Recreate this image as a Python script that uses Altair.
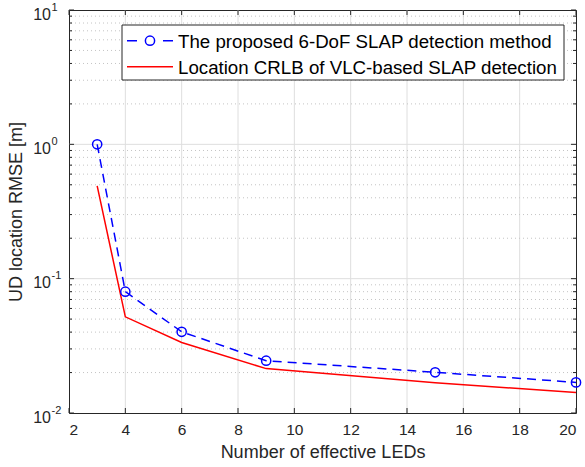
import altair as alt
import pandas as pd

# ---- data ----
leds = [3, 4, 6, 9, 15, 20]
proposed = [1.0, 0.080, 0.0402, 0.0245, 0.0201, 0.0169]
crlb = [0.49, 0.052, 0.0335, 0.0214, 0.0168, 0.0142]

x_ticks = [2, 4, 6, 8, 10, 12, 14, 16, 18, 20]
y_decades = [0.01, 0.1, 1, 10]
y_exponents = ["-2", "-1", "0", "1"]
y_minor = [m * d for d in [0.01, 0.1, 1] for m in range(2, 10)]

label_proposed = "The proposed 6-DoF SLAP detection method"
label_crlb = "Location CRLB of VLC-based SLAP detection"

# ---- layout / style ----
W, H = 507, 403
FONT = "Liberation Sans"
AX = "#262626"
BLUE = "#0000ff"
RED = "#ff0000"

xs = alt.Scale(domain=[2, 20], nice=False, zero=False)
ys = alt.Scale(type="log", domain=[0.01, 10], nice=False)

df = pd.DataFrame({"leds": leds, "proposed": proposed, "crlb": crlb})
xt = pd.DataFrame({"x": x_ticks})
xt_in = pd.DataFrame({"x": x_ticks[1:-1]})
yd = pd.DataFrame({"y": y_decades, "e": y_exponents})
yd_in = pd.DataFrame({"y": y_decades[1:-1]})
ym = pd.DataFrame({"y": y_minor})
one = pd.DataFrame({"a": [0]})

x_axis = alt.Axis(values=x_ticks, ticks=False, grid=False, domain=False,
                  labelFontSize=15.5, labelPadding=9, labelColor=AX, labelFont=FONT,
                  title="Number of effective LEDs", titleFontSize=18,
                  titleFont=FONT, titleColor=AX, titleFontWeight="normal",
                  titlePadding=6)
y_axis = alt.Axis(labels=False, ticks=False, grid=False, domain=False,
                  title="UD location RMSE [m]", titleFontSize=18, titleFont=FONT,
                  titleColor=AX, titleFontWeight="normal", titlePadding=44)


def X(f):
    return alt.X(f, scale=xs, axis=x_axis)


def Y(f):
    return alt.Y(f, scale=ys, axis=y_axis)


xgrid = alt.Chart(xt_in).mark_rule(color="#dedede", strokeWidth=1).encode(x=X("x:Q"))
ygrid = alt.Chart(yd_in).mark_rule(color="#dedede", strokeWidth=1).encode(y=Y("y:Q"))
yminor = alt.Chart(ym).mark_rule(color="#c4c4c4", strokeWidth=1,
                                 strokeDash=[1, 3]).encode(y=Y("y:Q"))

red = alt.Chart(df).mark_line(color=RED, strokeWidth=1.5, clip=False).encode(
    x=X("leds:Q"), y=Y("crlb:Q"))
blue = alt.Chart(df).mark_line(color=BLUE, strokeWidth=1.5, strokeDash=[9, 6],
                               clip=False).encode(x=X("leds:Q"), y=Y("proposed:Q"))
blue_pts = alt.Chart(df).mark_point(color=BLUE, filled=False, size=85,
                                    strokeWidth=1.5, opacity=1).encode(
    x=X("leds:Q"), y=Y("proposed:Q"))

# inward ticks (MATLAB box style)
tick_kw = dict(color=AX, strokeWidth=1)
xb = alt.Chart(xt).mark_rule(**tick_kw).encode(
    x=X("x:Q"), y=alt.value(H), y2=alt.value(H - 5))
xtop = alt.Chart(xt).mark_rule(**tick_kw).encode(
    x=X("x:Q"), y=alt.value(0), y2=alt.value(5))
yl = alt.Chart(yd).mark_rule(**tick_kw).encode(
    y=Y("y:Q"), x=alt.value(0), x2=alt.value(5))
yr = alt.Chart(yd).mark_rule(**tick_kw).encode(
    y=Y("y:Q"), x=alt.value(W), x2=alt.value(W - 5))
ylm = alt.Chart(ym).mark_rule(**tick_kw).encode(
    y=Y("y:Q"), x=alt.value(0), x2=alt.value(3))
yrm = alt.Chart(ym).mark_rule(**tick_kw).encode(
    y=Y("y:Q"), x=alt.value(W), x2=alt.value(W - 3))

# y tick labels with superscript exponents
ybase = alt.Chart(yd).mark_text(font=FONT, fontSize=16, color=AX, align="right",
                                baseline="middle", dy=4.5).encode(
    y=Y("y:Q"), x=alt.value(-18), text=alt.value("10"))
yexp = alt.Chart(yd).mark_text(font=FONT, fontSize=11, color=AX, align="left",
                               baseline="middle", dy=-2.5).encode(
    y=Y("y:Q"), x=alt.value(-17.5), text="e:N")

# legend
LX0, LX1, LY0, LY1 = 53, 495, 15, 70
R1, R2 = 30.7, 56.7
leg_box = alt.Chart(one).mark_rect(fill="white", stroke=AX, strokeWidth=1).encode(
    x=alt.value(LX0), x2=alt.value(LX1), y=alt.value(LY0), y2=alt.value(LY1))
leg_blue = alt.Chart(one).mark_rule(color=BLUE, strokeWidth=1.5,
                                    strokeDash=[10, 26]).encode(
    x=alt.value(58), x2=alt.value(104), y=alt.value(R1))
leg_blue_pt = alt.Chart(one).mark_point(color=BLUE, filled=False, size=85,
                                        strokeWidth=1.5, opacity=1).encode(
    x=alt.value(81), y=alt.value(R1))
leg_red = alt.Chart(one).mark_rule(color=RED, strokeWidth=1.5).encode(
    x=alt.value(58), x2=alt.value(104), y=alt.value(R2))
leg_t1 = alt.Chart(one).mark_text(font=FONT, fontSize=18.7, color="black",
                                  align="left", baseline="middle").encode(
    x=alt.value(109), y=alt.value(R1 + 1), text=alt.value(label_proposed))
leg_t2 = alt.Chart(one).mark_text(font=FONT, fontSize=18.7, color="black",
                                  align="left", baseline="middle").encode(
    x=alt.value(109), y=alt.value(R2 + 1), text=alt.value(label_crlb))

chart = alt.layer(
    xgrid, ygrid, yminor, red, blue, blue_pts,
    xb, xtop, yl, yr, ylm, yrm, ybase, yexp,
    leg_box, leg_blue, leg_blue_pt, leg_red, leg_t1, leg_t2,
).properties(
    width=W, height=H,
    padding={"left": 69, "top": 10, "right": 9, "bottom": 54},
    autosize=alt.AutoSizeParams(type="none"),
    background="white",
).configure_view(stroke=AX, strokeWidth=1)

chart.save("out.html", embed_options={"renderer": "svg", "actions": False})
